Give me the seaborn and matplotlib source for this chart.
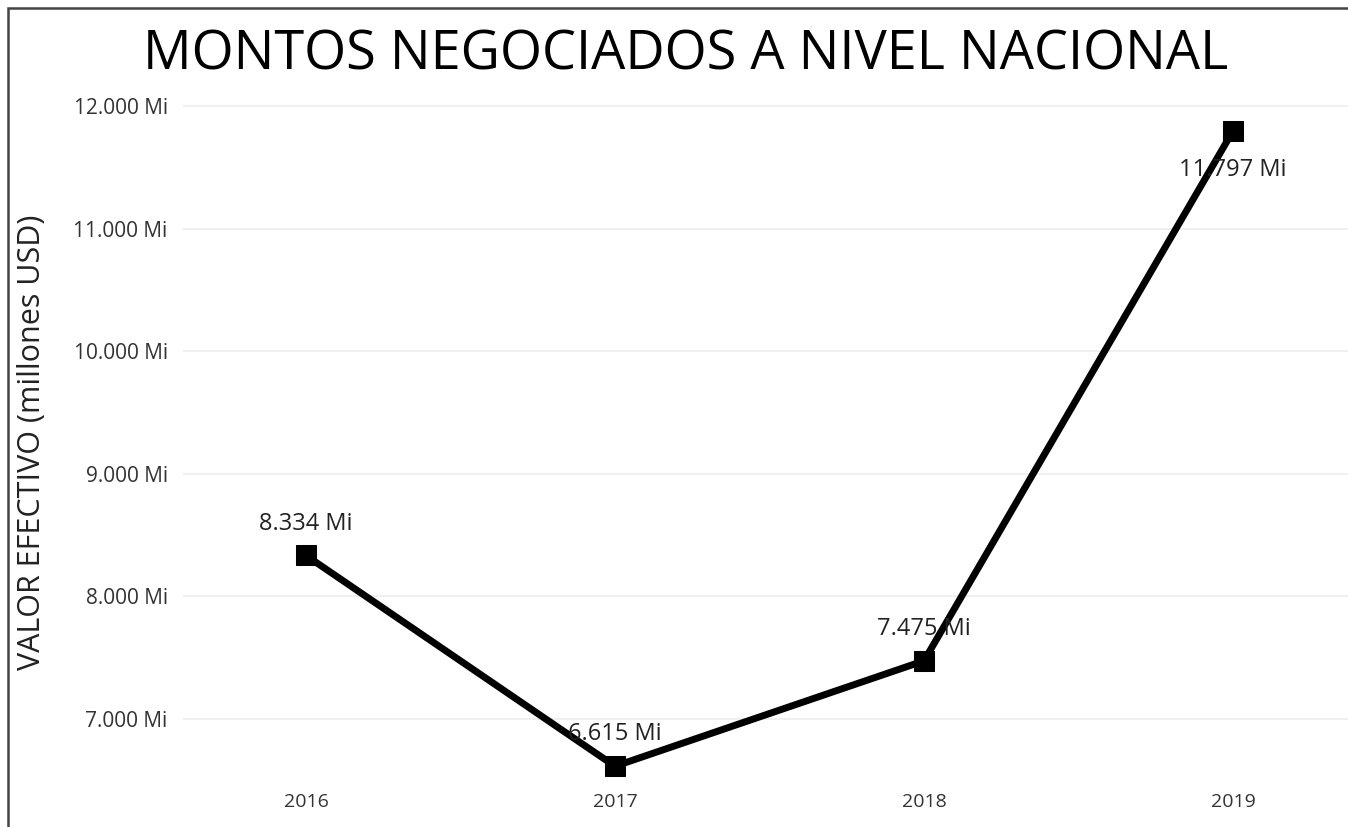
import matplotlib
matplotlib.use("Agg")
import matplotlib.pyplot as plt
import matplotlib.patches as mpatches
import seaborn as sns
import pandas as pd

# values (millions USD)
years = [2016, 2017, 2018, 2019]
montos = [8334, 6615, 7475, 11797]
etiquetas = ["8.334 Mi", "6.615 Mi", "7.475 Mi", "11.797 Mi"]
yticks = [7000, 8000, 9000, 10000, 11000, 12000]
ytick_labels = ["7.000 Mi", "8.000 Mi", "9.000 Mi", "10.000 Mi", "11.000 Mi", "12.000 Mi"]

df = pd.DataFrame({"year": years, "monto": montos})

sns.set_style("white")
plt.rcParams["font.family"] = ["Open Sans", "DejaVu Sans"]

fig = plt.figure(figsize=(13.48, 8.27), dpi=100)
ax = fig.add_axes([183 / 1348, 1 - 785 / 827, 1 - 183 / 1348, (785 - 100) / 827])

sns.lineplot(data=df, x="year", y="monto", ax=ax, color="black", linewidth=5,
             marker="s", markersize=14, markeredgecolor="black")

ax.set_xlim(2015.602, 2019.372)
ax.set_ylim(6462, 12049)
ax.set_xticks(years)
ax.set_xticklabels([str(y) for y in years], fontsize=14, color="#333333")
ax.set_yticks(yticks)
ax.set_yticklabels(ytick_labels, fontsize=15, color="#333333")
ax.tick_params(axis="y", length=0, pad=11)
ax.tick_params(axis="x", length=0, pad=6)
ax.yaxis.grid(True, color="#eeeeee", linewidth=1.2)
ax.xaxis.grid(False)
for s in ax.spines.values():
    s.set_visible(False)

ax.set_xlabel("")
ax.set_ylabel("")
fig.text(32 / 1348, 1 - 442 / 827, "VALOR EFECTIVO (millones USD)", rotation=90,
         ha="center", va="center", fontsize=22, color="#222222")

# data labels
for x, y, lab in zip(years, montos, etiquetas):
    if y == max(montos):
        ax.annotate(lab, (x, y), xytext=(0, -28), textcoords="offset points",
                    ha="center", va="center", fontsize=17, color="#222222")
    else:
        ax.annotate(lab, (x, y), xytext=(0, 23), textcoords="offset points",
                    ha="center", va="center", fontsize=17, color="#222222")

fig.text(686 / 1348, 1 - 55 / 827, "MONTOS NEGOCIADOS A NIVEL NACIONAL",
         ha="center", va="center", fontsize=39, color="black")

# frame around the visual (top and left edges visible)
frame = mpatches.Rectangle((8 / 1348, -0.05), 1.1, 1 - 8 / 827 + 0.05,
                           transform=fig.transFigure, fill=False,
                           edgecolor="#444444", linewidth=1.8)
fig.patches.append(frame)

fig.savefig("out.png", dpi=100)
